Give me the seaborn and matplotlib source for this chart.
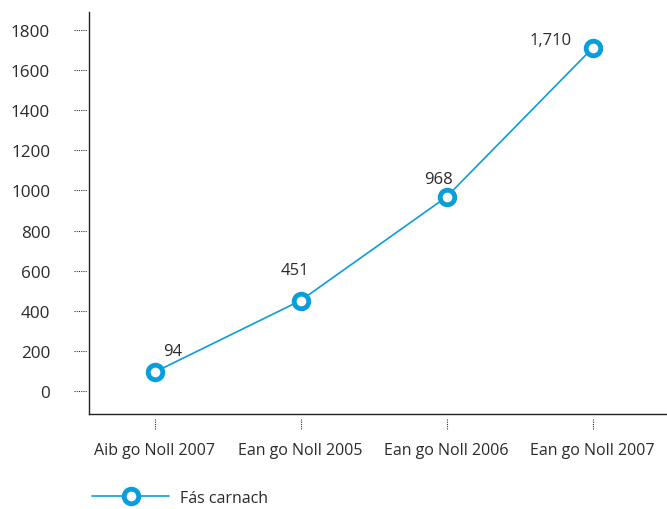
import matplotlib
matplotlib.use("Agg")
import matplotlib.pyplot as plt
import matplotlib.transforms as mtransforms
import seaborn as sns
import pandas as pd

# Data
periods = ["Aib go Noll 2007", "Ean go Noll 2005", "Ean go Noll 2006", "Ean go Noll 2007"]
values = [94, 451, 968, 1710]
value_labels = ["94", "451", "968", "1,710"]
series_name = "Fás carnach"
y_ticks = [0, 200, 400, 600, 800, 1000, 1200, 1400, 1600, 1800]

BLUE = "#0a9ddb"
TEXT = "#2b2b2b"

sns.set_style("white")
plt.rcParams["font.family"] = ["Open Sans", "DejaVu Sans"]
plt.rcParams["font.size"] = 11.5

df = pd.DataFrame({"period": periods, "value": values, "series": series_name})
df["x"] = range(len(periods))

fig = plt.figure(figsize=(6.67, 5.1), dpi=100)
ax = fig.add_axes([89 / 667, 1 - 415 / 510, 1 - 89 / 667, (415 - 13) / 510])

MS, MEW = 10.5, 3.5
sns.lineplot(data=df, x="x", y="value", hue="series", palette=[BLUE], ax=ax,
             linewidth=1.2, marker="o", markersize=MS, markeredgewidth=MEW,
             markerfacecolor="white", markeredgecolor=BLUE, legend=False)

ax.set_xlim(-0.45, 3.51)
ax.set_ylim(-115, 1890)
ax.set_xticks(range(len(periods)))
ax.set_xticklabels(periods, color=TEXT, fontsize=11.5)
ax.set_yticks(y_ticks)
ax.set_yticklabels([str(t) for t in y_ticks], color=TEXT, fontsize=12.3)
ax.tick_params(axis="y", length=0, pad=28)
ax.tick_params(axis="x", length=0, pad=20)
ax.set_xlabel("")
ax.set_ylabel("")

for side in ["top", "right"]:
    ax.spines[side].set_visible(False)
for side in ["left", "bottom"]:
    ax.spines[side].set_color("#222222")
    ax.spines[side].set_linewidth(1.0)

# dotted tick marks set apart from the spines
for t in y_ticks:
    tr = mtransforms.blended_transform_factory(ax.transAxes, ax.transData)
    ax.plot([-15 / 578, -2 / 578], [t, t], transform=tr, color="#333333",
            linestyle=(0, (1, 1)), linewidth=0.8, clip_on=False)
for i in range(len(periods)):
    tr = mtransforms.blended_transform_factory(ax.transData, ax.transAxes)
    ax.plot([i, i], [-5 / 402, -16 / 402], transform=tr, color="#333333",
            linestyle=(0, (1, 1)), linewidth=0.8, clip_on=False)

# value labels
offsets = [(13, 15), (-4, 22), (-6, 13), (-30, 6)]
for i, (v, lab) in enumerate(zip(values, value_labels)):
    ax.annotate(lab, (i, v), xytext=offsets[i], textcoords="offset points",
                ha="center", va="center", color=TEXT, fontsize=12)

# legend
handle = plt.Line2D([], [], color=BLUE, linewidth=1.2, marker="o", markersize=MS,
                    markeredgewidth=MEW, markerfacecolor="white", markeredgecolor=BLUE)
fig.legend([handle], [series_name], loc="center left",
           bbox_to_anchor=(78 / 667, 1 - 499 / 510), frameon=False,
           handlelength=4.8, handletextpad=0.7, fontsize=11.5, labelcolor=TEXT)

fig.savefig("out.png", dpi=100)
